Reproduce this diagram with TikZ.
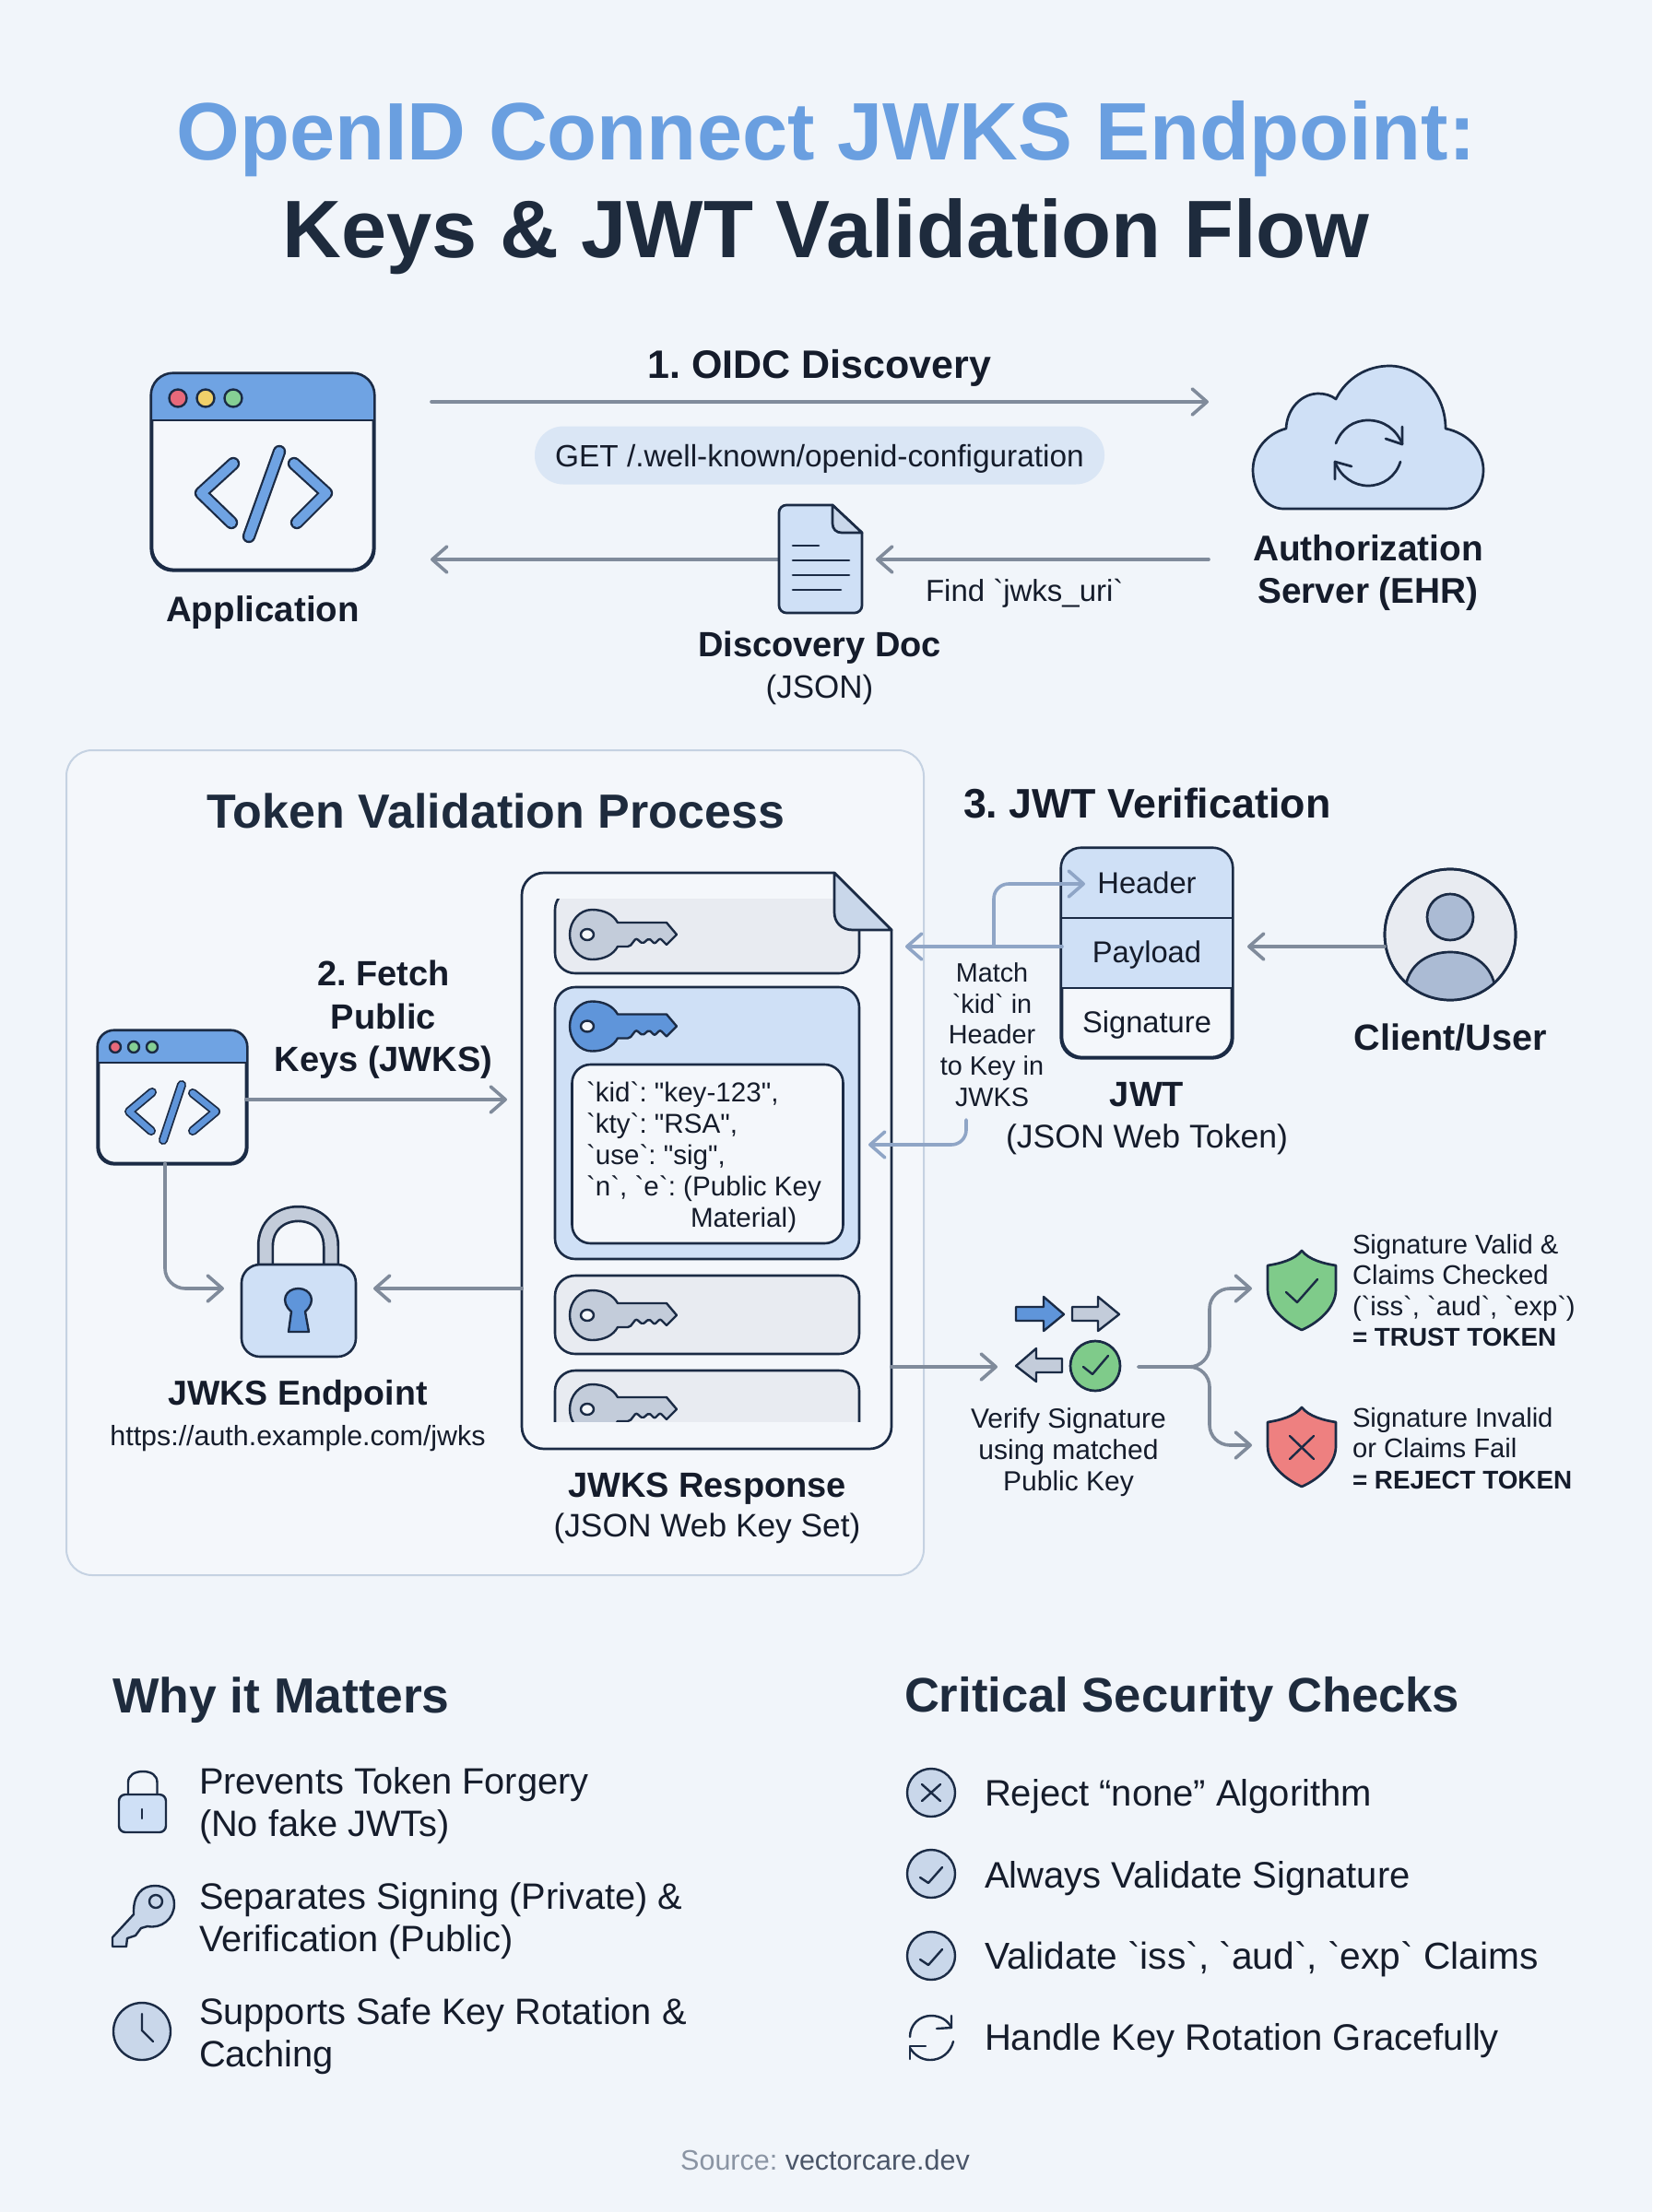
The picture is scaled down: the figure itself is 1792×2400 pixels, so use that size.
\documentclass[tikz,border=0pt]{standalone}
\usepackage{fontspec}
\usetikzlibrary{arrows.meta}
\newfontfamily\basefont{Liberation Sans}
\definecolor{bgc}{HTML}{F1F5FA}
\definecolor{paper}{HTML}{F4F7FB}
\definecolor{ink}{HTML}{1B2B45}
\definecolor{txt}{HTML}{151C2B}
\definecolor{head}{HTML}{1E2B3D}
\definecolor{blu}{HTML}{6FA3E3}
\definecolor{bluD}{HTML}{5F95DA}
\definecolor{pale}{HTML}{CFE0F6}
\definecolor{pillc}{HTML}{DAE6F5}
\definecolor{steel}{HTML}{C3CCDA}
\definecolor{steelL}{HTML}{C9D7EA}
\definecolor{rowc}{HTML}{E8EBF1}
\definecolor{arrg}{HTML}{808B9B}
\definecolor{arrb}{HTML}{8FA5C6}
\definecolor{panelb}{HTML}{C5D2E2}
\definecolor{grn}{HTML}{7FCB8A}
\definecolor{redc}{HTML}{EE8080}
\definecolor{dotr}{HTML}{E8697A}
\definecolor{doty}{HTML}{F0D06A}
\definecolor{dotg}{HTML}{86CF94}
\definecolor{srcg}{HTML}{8A94A3}
\definecolor{srcd}{HTML}{4A5568}
\definecolor{titleb}{HTML}{6A9FE0}
\tikzset{
  textc/.style={inner sep=0pt,outer sep=0pt,text=txt,anchor=north,align=center},
  textl/.style={inner sep=0pt,outer sep=0pt,text=txt,anchor=north west,align=left},
  conn/.style={draw=arrg,line width=3.6pt,line cap=round,-{Straight Barb[length=16pt,width=28pt,round]}},
  connb/.style={draw=arrb,line width=3.6pt,line cap=round,-{Straight Barb[length=16pt,width=28pt,round]}},
  line/.style={draw=ink,line width=2.7pt,line join=round,line cap=round},
  thinl/.style={draw=ink,line width=2.4pt,line join=round,line cap=round},
  winbox/.style={rectangle,draw=ink,line width=2.6pt,fill=paper,rounded corners=#1,inner sep=0pt},
  glyph/.style={draw=ink,line width=2.2pt,double=blu,double distance=10pt,line cap=round,line join=round},
  glyphs/.style={draw=ink,line width=1.8pt,double=bluD,double distance=6.5pt,line cap=round,line join=round},
  boxr/.style={draw=ink,line width=2.6pt,rounded corners=22pt},
}
% [options]{name}{x}{y of first line centre}{size}{leading}{text}
\newcommand{\TX}[7][]{\node[textc,font={\basefont\frenchspacing\fontsize{#5}{#6}\selectfont},#1] (#2) at ({#3},{#4-0.54*#5}) {\rule{0pt}{0.9em}#7};}
\newcommand{\keyglyph}[3]{\begin{scope}[shift={(#1,#2)}]
  \draw[thinl,fill=#3] (33,-13) -- (86,-13) -- (97,0) -- (86,11) [rounded corners=2pt] -- (79,4) -- (73,10) -- (67,4) -- (60,10) -- (53,4) -- (46,13) [sharp corners] -- (33,13) .. controls (28,22) and (18,27) .. (5,27) .. controls (-8,27) and (-19,15) .. (-19,0) .. controls (-19,-15) and (-8,-27) .. (5,-27) .. controls (18,-27) and (28,-22) .. (33,-13) -- cycle;
  \draw[thinl,fill=paper] (0,0) ellipse (7 and 6);
\end{scope}}
\newcommand{\shieldglyph}[3]{\begin{scope}[shift={(#1,#2)}]
  \draw[line,fill=#3] (0,0) .. controls (8,10) and (24,14) .. (37,16) -- (37,42) .. controls (37,62) and (18,78) .. (0,86) .. controls (-18,78) and (-37,62) .. (-37,42) -- (-37,16) .. controls (-24,14) and (-8,10) .. (0,0) -- cycle;
\end{scope}}
\begin{document}
\begin{tikzpicture}[x=1pt,y=-1pt]
\path[use as bounding box,fill=bgc] (0,0) rectangle (1792,2400);

% ---------- title
\TX{title}{896}{142}{88.4}{106}{\textbf{\textcolor{titleb}{OpenID Connect JWKS Endpoint:}}\\\textbf{\textcolor{head}{Keys \& JWT Validation Flow}}}

% ---------- application window
\node[winbox=24pt,minimum width=240pt,minimum height=212pt] (app) at (285,512) {};
\begin{scope}
  \clip (160,400) rectangle (410,456);
  \fill[blu,rounded corners=24pt] (app.north west) rectangle (app.south east);
\end{scope}
\draw[line] (165,456) -- (405,456);
\draw[boxr,rounded corners=24pt] (app.north west) rectangle (app.south east);
\draw[thinl,fill=dotr] (193,432) circle (9.5);
\draw[thinl,fill=doty] (223,432) circle (9.5);
\draw[thinl,fill=dotg] (253,432) circle (9.5);
\draw[glyph] (253,503) -- (218,535) -- (251,567);
\draw[glyph] (303,490) -- (270,582);
\draw[glyph] (319,503) -- (354,535) -- (322,567);
\TX{applabel}{285}{661}{38.5}{46}{\textbf{Application}}

% ---------- discovery
\TX{oidc}{889}{395}{43}{50}{\textbf{1. OIDC Discovery}}
\node[rectangle,fill=pillc,rounded corners=31pt,minimum width=618pt,minimum height=63pt,inner sep=0pt,text=txt,text height=30pt,text depth=6pt,font={\basefont\fontsize{33.4}{40}\selectfont}] (pill) at (889,494) {GET /.well-known/openid-configuration};

% cloud
\draw[line,fill=pale] (1392,552) .. controls (1373,552) and (1359,532) .. (1359,510) .. controls (1359,488) and (1375,470) .. (1395,465) .. controls (1396,443) and (1412,427) .. (1430,427) .. controls (1437,427) and (1444,429) .. (1449,433) .. controls (1460,411) and (1482,397) .. (1507,397) .. controls (1541,397) and (1568,428) .. (1568,465) .. controls (1592,470) and (1609,488) .. (1609,510) .. controls (1609,533) and (1592,552) .. (1568,552) -- cycle;
\draw[line] (1449,481) .. controls (1455,465) and (1468,456) .. (1484,456) .. controls (1501,456) and (1515,466) .. (1521,482);
\draw[line] (1521,463) -- (1521,482) -- (1503,476);
\draw[line] (1519,501) .. controls (1514,517) and (1500,527) .. (1484,527) .. controls (1468,527) and (1454,517) .. (1448,501);
\draw[line] (1448,520) -- (1448,501) -- (1466,506);
\TX{authlabel}{1484}{595}{38.8}{46}{\textbf{Authorization}\\\textbf{Server (EHR)}}

% discovery connectors
\coordinate (appOut) at (468,436);
\coordinate (srvIn) at (1311,436);
\coordinate (srvOut) at (1311,607);
\coordinate (docIn) at (950,607);
\coordinate (docOut) at (845,607);
\coordinate (appIn) at (467,607);
\draw[conn] (appOut) -- (srvIn);
\draw[conn] (srvOut) -- (docIn);
\draw[conn] (docOut) -- (appIn);
\TX[textl]{finduri}{1004}{641}{33}{40}{Find `jwks\_uri`}

% discovery document
\draw[line,fill=pale] (903,548) [rounded corners=8pt] -- (845,548) -- (845,665) -- (935,665) [sharp corners] -- (935,578) -- cycle;
\draw[line,fill=steelL] (903,548) -- (935,578) -- (913,578) .. controls (907,578) and (903,574) .. (903,568) -- cycle;
\draw[line] (860,592) -- (888,592);
\draw[line] (860,608) -- (921,608);
\draw[line] (860,624) -- (921,624);
\draw[line] (860,640) -- (912,640);
\TX{doclabel}{889}{699}{38}{45}{\textbf{Discovery Doc}\\\fontsize{35}{45}\selectfont (JSON)}

% ---------- panel
\draw[draw=panelb,line width=2pt,fill=paper,rounded corners=28pt] (72,814) rectangle (1002,1709);
\TX{tokenhead}{538}{880}{52}{60}{\textbf{\textcolor{head}{Token Validation Process}}}
\TX{fetch}{416}{1056}{38}{46.5}{\textbf{2. Fetch}\\\textbf{Public}\\\textbf{Keys (JWKS)}}

% small window
\node[winbox=18pt,minimum width=160pt,minimum height=143pt] (smallapp) at (187,1190.5) {};
\begin{scope}
  \clip (100,1110) rectangle (275,1153);
  \fill[blu,rounded corners=18pt] (smallapp.north west) rectangle (smallapp.south east);
\end{scope}
\draw[line] (107,1153) -- (267,1153);
\draw[boxr,rounded corners=18pt] (smallapp.north west) rectangle (smallapp.south east);
\draw[thinl,fill=dotr] (125,1136) circle (6);
\draw[thinl,fill=dotg] (145,1136) circle (6);
\draw[thinl,fill=dotg] (165,1136) circle (6);
\draw[glyphs] (165,1185) -- (140,1206) -- (164,1227);
\draw[glyphs] (197,1177) -- (177,1237);
\draw[glyphs] (209,1186) -- (234,1206) -- (209,1227);

% big lock
\draw[draw=ink,line width=2.7pt,double=steel,double distance=13pt,line join=round] (288,1372) -- (288,1352) .. controls (288,1330) and (304,1317) .. (323.5,1317) .. controls (343,1317) and (359,1330) .. (359,1352) -- (359,1372);
\node[winbox=20pt,fill=pale,minimum width=124pt,minimum height=100pt] (lock) at (324,1422) {};
\draw[thinl,fill=bluD] (313,1445) -- (316,1423) .. controls (303,1412) and (310,1398) .. (323.5,1398) .. controls (337,1398) and (344,1412) .. (331,1423) -- (335,1445) -- cycle;
\TX{jwkslabel}{323}{1511}{37.5}{45}{\textbf{JWKS Endpoint}}
\TX{jwksurl}{323}{1558}{30.4}{36}{https://auth.example.com/jwks}

% JWKS response document
\draw[line,fill=paper] (905,947) [rounded corners=24pt] -- (566,947) -- (566,1572) -- (967,1572) [sharp corners] -- (967,1009) -- cycle;
\begin{scope}
  \clip (595,975) rectangle (940,1542);
  \draw[boxr,fill=rowc] (602,965) rectangle (932,1056);
  \draw[boxr,fill=pale] (602,1071) rectangle (932,1366);
  \draw[boxr,fill=rowc] (602,1384) rectangle (932,1469);
  \draw[boxr,fill=rowc] (602,1487) rectangle (932,1610);
  \keyglyph{637}{1014}{steel}
  \keyglyph{637}{1113.5}{bluD}
  \keyglyph{637}{1427}{steel}
  \keyglyph{637}{1529}{steel}
\end{scope}
\node[winbox=20pt,minimum width=294pt,minimum height=194pt] (keybox) at (767.5,1252) {};
\TX[textl]{keytext}{636}{1185}{29.6}{34}{`kid`: "key-123",\\`kty`: "RSA",\\`use`: "sig",\\`n`, `e`: (Public Key\\\hspace*{113pt}Material)}
\draw[line,fill=steelL] (905,947) -- (967,1009) -- (925,1009) .. controls (912,1009) and (905,1000) .. (905,990) -- cycle;
\TX{resplabel}{767}{1611}{38}{43}{\textbf{JWKS Response}\\\fontsize{35.3}{43}\selectfont (JSON Web Key Set)}

% panel connectors
\coordinate (smallOut) at (267,1193);
\coordinate (docFetch) at (550,1193);
\coordinate (smallDown) at (179,1262);
\coordinate (lockInL) at (243,1398);
\coordinate (respOutL) at (566,1398);
\coordinate (lockInR) at (405,1398);
\draw[conn] (smallOut) -- (docFetch);
\draw[conn,rounded corners=22pt] (smallDown) |- (lockInL);
\draw[conn] (respOutL) -- (lockInR);

% ---------- JWT verification
\TX[textl]{jwthead}{1045}{871}{44.8}{50}{\textbf{3. JWT Verification}}
\node[winbox=22pt,minimum width=184pt,minimum height=226pt] (jwt) at (1244,1034) {};
\begin{scope}
  \clip (1145,915) rectangle (1345,1072);
  \fill[pale,rounded corners=22pt] (jwt.north west) rectangle (jwt.south east);
\end{scope}
\draw[line] (1152,996) -- (1336,996);
\draw[line] (1152,1072) -- (1336,1072);
\draw[boxr] (jwt.north west) rectangle (jwt.south east);
\TX{jwtheader}{1244}{958}{32.7}{40}{Header}
\TX{jwtpayload}{1244}{1033}{32.7}{40}{Payload}
\TX{jwtsignature}{1244}{1109}{32.7}{40}{Signature}
\TX{jwtlabel}{1244}{1187}{38}{45}{\textbf{JWT}\\\fontsize{35.6}{45}\selectfont (JSON Web Token)}

% client
\node[circle,draw=ink,line width=2.7pt,fill=rowc,minimum size=142pt,inner sep=0pt] (client) at (1573,1014) {};
\begin{scope}
  \clip (1573,1014) circle (71);
  \draw[line,fill=arrb!75!white] (1525,1068) .. controls (1530,1045) and (1550,1033) .. (1573,1033) .. controls (1596,1033) and (1616,1045) .. (1621,1068) -- (1640,1110) -- (1505,1110) -- cycle;
\end{scope}
\draw[line,fill=arrb!75!white] (1573,995) circle (25);
\node[circle,draw=ink,line width=2.7pt,minimum size=142pt,inner sep=0pt] (clientring) at (1573,1014) {};
\TX{clientlabel}{1573}{1125}{39.6}{46}{\textbf{Client/User}}

\coordinate (clientOut) at (1502,1027);
\coordinate (jwtIn) at (1353,1027);
\coordinate (jwtOut) at (1152,1027);
\coordinate (respIn) at (982,1027);
\coordinate (branchFrom) at (1078,1027);
\coordinate (headerIn) at (1177,959);
\coordinate (matchOut) at (1048,1215);
\coordinate (keyIn) at (942,1242);
\draw[conn] (clientOut) -- (jwtIn);
\draw[connb] (jwtOut) -- (respIn);
\draw[connb,rounded corners=16pt] (branchFrom) |- (headerIn);
\draw[connb,rounded corners=16pt] (matchOut) |- (keyIn);
\TX{matchlabel}{1076}{1055}{28.8}{33.8}{Match\\`kid` in\\Header\\to Key in\\JWKS}

% ---------- verify
\draw[thinl,fill=bluD] (1102,1418) -- (1132,1418) -- (1132,1407) -- (1154,1426) -- (1132,1444) -- (1132,1433) -- (1102,1433) -- cycle;
\draw[thinl,fill=steel] (1163,1418) -- (1191,1418) -- (1191,1407) -- (1214,1426) -- (1191,1444) -- (1191,1433) -- (1163,1433) -- cycle;
\draw[thinl,fill=steel] (1152,1474) -- (1124,1474) -- (1124,1463) -- (1102,1482) -- (1124,1499) -- (1124,1489) -- (1152,1489) -- cycle;
\node[circle,draw=ink,line width=2.7pt,fill=grn,minimum size=54pt,inner sep=0pt] (verifydot) at (1188,1482) {};
\draw[thinl] (1175,1483) -- (1185,1491) -- (1202,1471);
\TX{verifylabel}{1159}{1539}{30}{34}{Verify Signature\\using matched\\Public Key}

\coordinate (respOut) at (967,1483);
\coordinate (verifyIn) at (1082,1483);
\coordinate (verifyOut) at (1235,1483);
\coordinate (fork) at (1312,1483);
\coordinate (trustIn) at (1358,1398);
\coordinate (rejectIn) at (1358,1568);
\draw[conn] (respOut) -- (verifyIn);
\draw[conn,rounded corners=22pt] (verifyOut) -- (fork) |- (trustIn);
\draw[conn,rounded corners=22pt] (verifyOut) -- (fork) |- (rejectIn);

\shieldglyph{1412}{1357}{grn}
\draw[thinl] (1395,1402) -- (1407,1413) -- (1429,1388);
\shieldglyph{1412}{1527}{redc}
\draw[thinl] (1399,1558) -- (1425,1583);
\draw[thinl] (1425,1558) -- (1399,1583);
\TX[textl]{trusttext}{1467}{1350}{29.2}{33.4}{Signature Valid \&\\Claims Checked\\(`iss`, `aud`, `exp`)\\\textbf{\fontsize{27.8}{33.4}\selectfont = TRUST TOKEN}}
\TX[textl]{rejecttext}{1467}{1538}{29.2}{33.4}{Signature Invalid\\or Claims Fail\\\textbf{\fontsize{27.8}{33.4}\selectfont = REJECT TOKEN}}

% ---------- why it matters
\TX[textl]{whyhead}{122}{1839}{53.5}{60}{\textbf{\textcolor{head}{Why it Matters}}}
\draw[thinl] (139,1947) -- (139,1934) .. controls (139,1926) and (146,1922) .. (155,1922) .. controls (164,1922) and (170.5,1926) .. (170.5,1934) -- (170.5,1947);
\draw[thinl,fill=pale,rounded corners=7pt] (129,1947) rectangle (180,1988);
\draw[thinl] (154,1963) -- (154,1973);
\TX[textl]{why1}{216}{1932}{39.8}{46}{Prevents Token Forgery\\(No fake JWTs)}
\draw[thinl,fill=steelL] (160,2090) .. controls (175,2093) and (189,2082) .. (189,2066) .. controls (189,2053) and (180,2046) .. (168,2046) .. controls (154,2046) and (144,2056) .. (145,2077) -- (122,2102) -- (122,2112) -- (137,2112) -- (138,2103) -- (147,2100) -- (153,2092) -- cycle;
\draw[thinl] (169,2063) circle (7);
\TX[textl]{why2}{216}{2057}{39.8}{46}{Separates Signing (Private) \&\\Verification (Public)}
\draw[thinl,fill=steelL] (154,2204) circle (31);
\draw[thinl] (154,2185) -- (154,2203) -- (166,2215);
\TX[textl]{why3}{216}{2182}{39.8}{46}{Supports Safe Key Rotation \&\\Caching}

% ---------- security checks
\TX[textl]{critHead}{981}{1839}{52.6}{60}{\textbf{\textcolor{head}{Critical Security Checks}}}
\draw[thinl,fill=steelL] (1010,1945) circle (26);
\draw[thinl] (1000,1936) -- (1020,1954);
\draw[thinl] (1020,1936) -- (1000,1954);
\TX[textl]{check1}{1068}{1945}{40}{46}{Reject “none” Algorithm}
\draw[thinl,fill=steelL] (1010,2033) circle (26);
\draw[thinl] (998,2037) -- (1007,2043) -- (1022,2026);
\TX[textl]{check2}{1068}{2034}{40}{46}{Always Validate Signature}
\draw[thinl,fill=steelL] (1010,2122) circle (26);
\draw[thinl] (998,2126) -- (1007,2132) -- (1022,2115);
\TX[textl]{check3}{1068}{2122}{40.7}{46}{Validate `iss`, `aud`, `exp` Claims}
\draw[thinl] (987,2210) .. controls (987,2197) and (997,2187) .. (1010,2187) .. controls (1020,2187) and (1028,2192) .. (1032,2200);
\draw[thinl] (1032,2187) -- (1032,2200) -- (1016,2201);
\draw[thinl] (1034,2215) .. controls (1031,2227) and (1021,2235) .. (1009,2235) .. controls (1000,2235) and (992,2230) .. (987,2222);
\draw[thinl] (987,2234) -- (987,2220) -- (1004,2220);
\TX[textl]{check4}{1068}{2210}{40}{46}{Handle Key Rotation Gracefully}

% ---------- source
\TX{source}{895}{2343}{30.5}{36}{\textcolor{srcg}{Source:} \textcolor{srcd}{vectorcare.dev}}
\end{tikzpicture}
\end{document}
